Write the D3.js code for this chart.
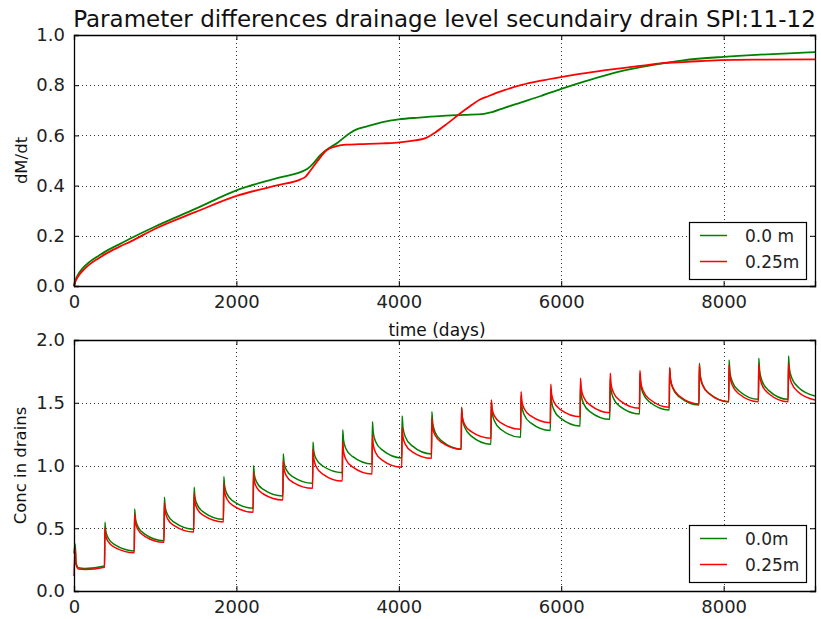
<!DOCTYPE html>
<html>
<head>
<meta charset="utf-8">
<script src="https://cdn.jsdelivr.net/npm/d3@7"></script>
<style>
  html, body { margin: 0; padding: 0; background: #fff; }
  svg { display: block; font-family: "DejaVu Sans", sans-serif; }
</style>
</head>
<body>
<svg id="chart" width="821" height="619"></svg>
<script>
// ---- Top panel: cumulative dM/dt for the two drainage levels ----
const dmDaysGreen = [0, 20, 50, 100, 200, 300, 400, 550, 700, 1000, 1500, 2000, 2500, 2865, 2950, 3030, 3080,
  3250, 3400, 3480, 3600, 3800, 4000, 4250, 4500, 4800, 5050, 5150, 5300, 5500, 5750, 6000,
  6300, 6700, 7100, 7500, 8000, 8400, 8800, 9125];
const dmValuesGreen = [0, 0.025, 0.045, 0.068, 0.098, 0.12, 0.14, 0.165, 0.19, 0.237, 0.308, 0.381, 0.43, 0.465, 0.49, 0.52, 0.535,
  0.572, 0.61, 0.624, 0.635, 0.653, 0.664, 0.671, 0.677, 0.682, 0.686, 0.693, 0.71, 0.731, 0.757, 0.785,
  0.816, 0.853, 0.879, 0.899, 0.913, 0.921, 0.927, 0.932];

const dmDaysRed = [0, 20, 50, 100, 200, 300, 400, 550, 700, 1000, 1500, 2000, 2500, 2790, 2850, 2900, 2990,
  3110, 3235, 3350, 3520, 3800, 4014, 4200, 4320, 4450, 4600, 4750, 4900, 5000, 5100, 5300, 5500,
  5750, 6030, 6400, 6730, 7000, 7220, 7550, 7960, 8500, 9125];
const dmValuesRed = [0, 0.02, 0.038, 0.058, 0.088, 0.11, 0.13, 0.155, 0.178, 0.228, 0.295, 0.359, 0.401, 0.425, 0.435, 0.455, 0.494,
  0.541, 0.557, 0.563, 0.565, 0.568, 0.572, 0.58, 0.588, 0.612, 0.648, 0.686, 0.722, 0.743, 0.756, 0.78, 0.80,
  0.818, 0.834, 0.853, 0.867, 0.878, 0.887, 0.893, 0.900, 0.902, 0.903];

// ---- Bottom panel: yearly concentration pulses in the drains ----
// day of each yearly pulse
const pulseDays = [15, 381, 747, 1113, 1479, 1845, 2211, 2577, 2943, 3309, 3675, 4041, 4407,
  4773, 5139, 5505, 5871, 6237, 6603, 6969, 7335, 7701, 8067, 8433, 8799];
// days after each pulse at which the decay values below are taken
const decayOffsets = [0, 10, 40, 120];
// per pulse: [peak, +10 d, +40 d, +120 d, value just before next pulse]
const concGreen = [
  [0.375, 0.23, 0.185, 0.18, 0.20],
  [0.547, 0.479, 0.422, 0.369, 0.319],
  [0.653, 0.577, 0.514, 0.456, 0.401],
  [0.747, 0.671, 0.607, 0.548, 0.492],
  [0.826, 0.750, 0.686, 0.627, 0.571],
  [0.911, 0.835, 0.772, 0.714, 0.659],
  [0.999, 0.926, 0.866, 0.810, 0.757],
  [1.092, 1.022, 0.963, 0.909, 0.858],
  [1.185, 1.112, 1.052, 0.996, 0.943],
  [1.283, 1.202, 1.134, 1.072, 1.012],
  [1.349, 1.262, 1.190, 1.124, 1.060],
  [1.394, 1.303, 1.228, 1.158, 1.092],
  [1.429, 1.339, 1.265, 1.196, 1.130],
  [1.464, 1.376, 1.302, 1.234, 1.169],
  [1.508, 1.423, 1.352, 1.287, 1.225],
  [1.554, 1.471, 1.402, 1.339, 1.278],
  [1.596, 1.512, 1.441, 1.377, 1.315],
  [1.641, 1.559, 1.491, 1.428, 1.368],
  [1.687, 1.604, 1.535, 1.471, 1.410],
  [1.735, 1.647, 1.574, 1.506, 1.442],
  [1.775, 1.687, 1.614, 1.546, 1.482],
  [1.814, 1.722, 1.646, 1.575, 1.508],
  [1.841, 1.747, 1.668, 1.596, 1.527],
  [1.854, 1.756, 1.674, 1.599, 1.527],
  [1.873, 1.776, 1.698, 1.624, 1.554]
];
const concRed = [
  [0.340, 0.21, 0.175, 0.172, 0.19],
  [0.500, 0.442, 0.393, 0.348, 0.305],
  [0.614, 0.546, 0.490, 0.438, 0.388],
  [0.704, 0.634, 0.575, 0.521, 0.470],
  [0.779, 0.710, 0.653, 0.600, 0.550],
  [0.858, 0.789, 0.731, 0.678, 0.627],
  [0.943, 0.878, 0.823, 0.773, 0.725],
  [1.036, 0.971, 0.916, 0.866, 0.818],
  [1.130, 1.054, 0.990, 0.932, 0.876],
  [1.190, 1.113, 1.048, 0.989, 0.932],
  [1.243, 1.166, 1.102, 1.043, 0.986],
  [1.304, 1.230, 1.168, 1.111, 1.057],
  [1.376, 1.302, 1.241, 1.184, 1.130],
  [1.456, 1.384, 1.325, 1.270, 1.217],
  [1.522, 1.452, 1.393, 1.339, 1.288],
  [1.588, 1.514, 1.452, 1.395, 1.341],
  [1.647, 1.570, 1.505, 1.446, 1.389],
  [1.695, 1.613, 1.544, 1.481, 1.421],
  [1.735, 1.651, 1.582, 1.517, 1.456],
  [1.756, 1.668, 1.595, 1.528, 1.464],
  [1.780, 1.693, 1.621, 1.554, 1.490],
  [1.800, 1.712, 1.639, 1.572, 1.508],
  [1.800, 1.712, 1.639, 1.572, 1.508],
  [1.806, 1.717, 1.642, 1.574, 1.508],
  [1.814, 1.726, 1.653, 1.586, 1.522]
];
const concStartGreen = 0.30, concStartRed = 0.12;

const xTicks = [0, 2000, 4000, 6000, 8000];
const dmTicks = [0.0, 0.2, 0.4, 0.6, 0.8, 1.0];
const concTicks = [0.0, 0.5, 1.0, 1.5, 2.0];
const legendTop = ["0.0 m", "0.25m"];
const legendBottom = ["0.0m", "0.25m"];
const seriesColors = ["#008000", "#ff0000"];
const dayMax = 9125;

const svg = d3.select("#chart");
const left = 74, right = 815;
const panels = [
  { top: 35, bottom: 286 },
  { top: 340, bottom: 591 }
];

const x = d3.scaleLinear().domain([0, dayMax]).range([left, right]);
const yTop = d3.scaleLinear().domain([0, 1]).range([panels[0].bottom, panels[0].top]);
const yBot = d3.scaleLinear().domain([0, 2]).range([panels[1].bottom, panels[1].top]);

function buildConc(rows, start) {
  const pts = [[0, start]];
  rows.forEach((r, i) => {
    const s = pulseDays[i];
    decayOffsets.forEach((o, j) => pts.push([s + o, r[j]]));
    const endDay = i + 1 < pulseDays.length ? pulseDays[i + 1] - 5 : dayMax;
    pts.push([endDay, r[4]]);
  });
  return pts;
}

function drawGrid(p, y, yTicks) {
  const g = svg.append("g");
  g.append("g").selectAll("line").data(xTicks.slice(1)).join("line")
    .attr("x1", d => Math.round(x(d)) + 0.5).attr("x2", d => Math.round(x(d)) + 0.5)
    .attr("y1", p.top).attr("y2", p.bottom)
    .attr("stroke", "#000").attr("stroke-width", 0.8).attr("stroke-dasharray", "1,3");
  g.append("g").selectAll("line").data(yTicks.slice(1, -1)).join("line")
    .attr("y1", d => Math.round(y(d)) + 0.5).attr("y2", d => Math.round(y(d)) + 0.5)
    .attr("x1", left).attr("x2", right)
    .attr("stroke", "#000").attr("stroke-width", 0.8).attr("stroke-dasharray", "1,3");
}

function drawFrame(p, y, yTicks, fmt) {
  const g = svg.append("g");
  const axB = d3.axisBottom(x).tickValues(xTicks).tickSize(-5).tickPadding(9).tickFormat(d3.format("d"));
  const axT = d3.axisTop(x).tickValues(xTicks).tickSize(-5).tickFormat("");
  const axL = d3.axisLeft(y).tickValues(yTicks).tickSize(-5).tickPadding(9).tickFormat(fmt);
  const axR = d3.axisRight(y).tickValues(yTicks).tickSize(-5).tickFormat("");
  const gb = g.append("g").attr("transform", `translate(0,${p.bottom})`).call(axB);
  const gt = g.append("g").attr("transform", `translate(0,${p.top})`).call(axT);
  const gl = g.append("g").attr("transform", `translate(${left},0)`).call(axL);
  const gr = g.append("g").attr("transform", `translate(${right},0)`).call(axR);
  [gb, gt, gl, gr].forEach(a => {
    a.select(".domain").attr("stroke", "#000").attr("stroke-width", 1.3);
    a.selectAll(".tick line").attr("stroke", "#000");
    a.selectAll("text").attr("font-family", "DejaVu Sans").attr("font-size", 18).attr("fill", "#222");
  });
}

const line = d3.line().x(d => x(d[0]));

// top panel
drawGrid(panels[0], yTop, dmTicks);
const dmSeries = [
  dmDaysGreen.map((d, i) => [d, dmValuesGreen[i]]),
  dmDaysRed.map((d, i) => [d, dmValuesRed[i]])
];
dmSeries.forEach((s, i) => {
  svg.append("path").datum(s)
    .attr("d", line.y(d => yTop(d[1])).curve(d3.curveMonotoneX))
    .attr("fill", "none").attr("stroke", seriesColors[i]).attr("stroke-width", 1.8);
});
drawFrame(panels[0], yTop, dmTicks, d3.format(".1f"));

// bottom panel
drawGrid(panels[1], yBot, concTicks);
const concSeries = [buildConc(concGreen, concStartGreen), buildConc(concRed, concStartRed)];
concSeries.forEach((s, i) => {
  svg.append("path").datum(s)
    .attr("d", line.y(d => yBot(d[1])).curve(d3.curveMonotoneX))
    .attr("fill", "none").attr("stroke", seriesColors[i]).attr("stroke-width", 1.5);
});
drawFrame(panels[1], yBot, concTicks, d3.format(".1f"));

// legends
function legend(top, labels) {
  const g = svg.append("g");
  g.append("rect").attr("x", 689.5).attr("y", top).attr("width", 117).attr("height", 57)
    .attr("fill", "#fff").attr("stroke", "#000").attr("stroke-width", 1.2);
  labels.forEach((t, i) => {
    const yy = top + 13 + i * 26;
    g.append("line").attr("x1", 700).attr("x2", 727).attr("y1", yy).attr("y2", yy)
      .attr("stroke", seriesColors[i]).attr("stroke-width", 1.5);
    g.append("text").attr("x", 745).attr("y", yy + 6).attr("font-size", 17).attr("fill", "#222").text(t);
  });
}
legend(222.5, legendTop);
legend(525.5, legendBottom);

// titles and axis labels
svg.append("text").attr("x", (left + right) / 2).attr("y", 27).attr("text-anchor", "middle")
  .attr("font-size", 23).attr("fill", "#111").text("Parameter differences drainage level secundairy drain SPI:11-12");
svg.append("text").attr("x", 437).attr("y", 336).attr("text-anchor", "middle")
  .attr("font-size", 17).attr("fill", "#111").text("time (days)");
svg.append("text").attr("transform", `translate(27,${(panels[0].top + panels[0].bottom) / 2}) rotate(-90)`)
  .attr("text-anchor", "middle").attr("font-size", 16.5).attr("fill", "#111").text("dM/dt");
svg.append("text").attr("transform", `translate(26,${(panels[1].top + panels[1].bottom) / 2}) rotate(-90)`)
  .attr("text-anchor", "middle").attr("font-size", 16.5).attr("fill", "#111").text("Conc in drains");
</script>
</body>
</html>
